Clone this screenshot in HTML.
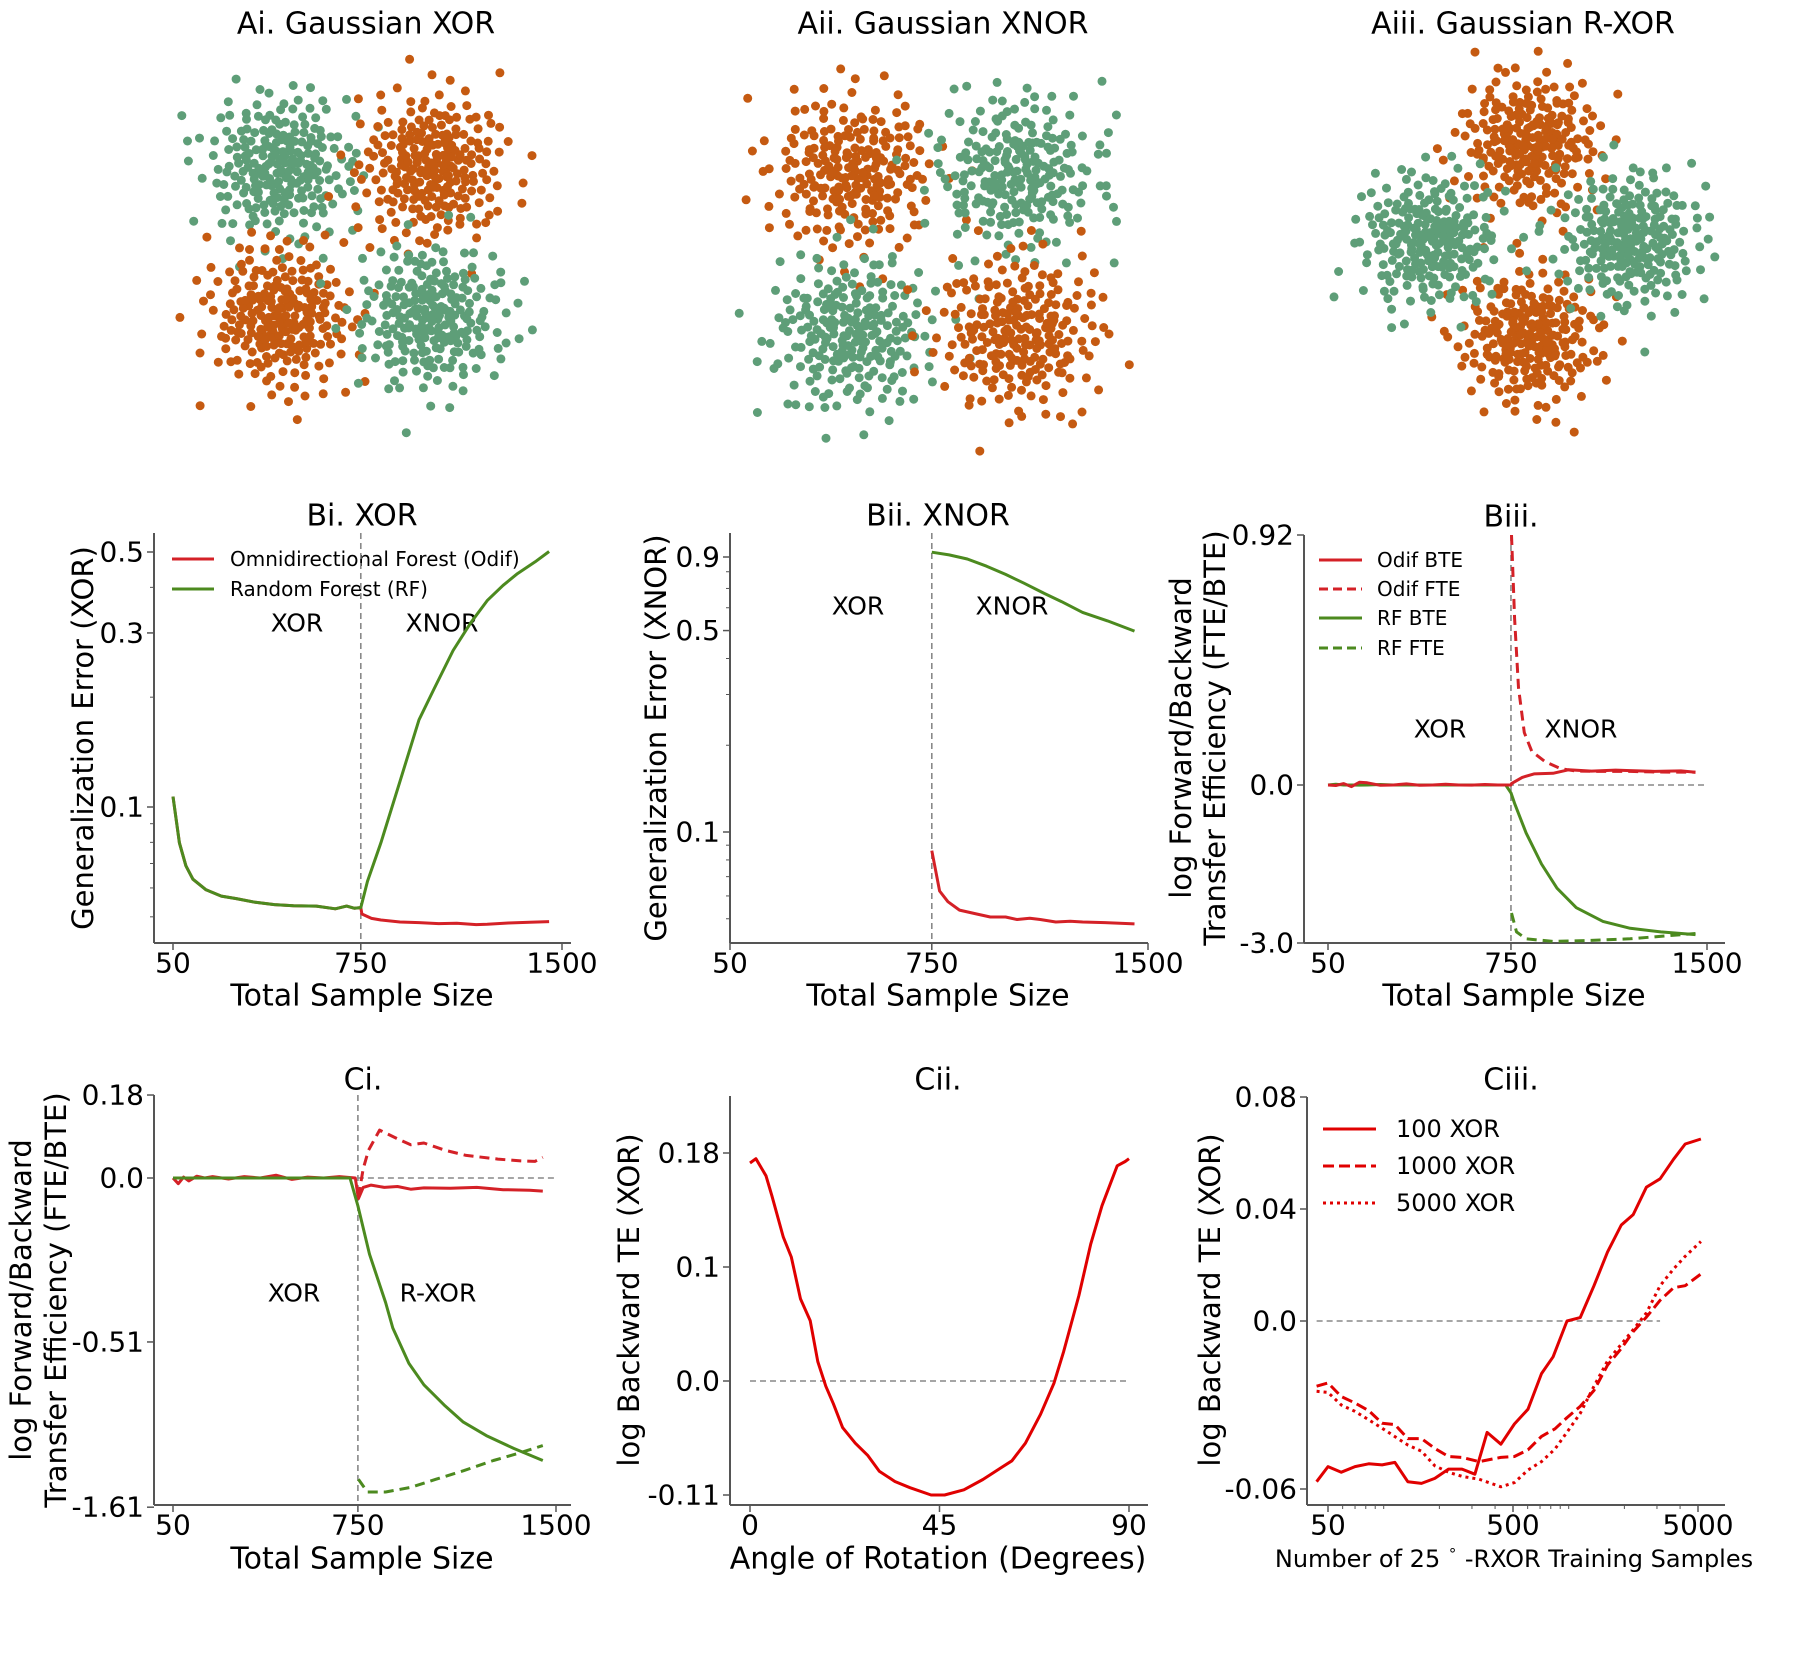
<!DOCTYPE html>
<html><head><meta charset="utf-8"><title>Gaussian XOR transfer figure</title>
<style>
html,body{margin:0;padding:0;background:#fff;}
svg{display:block;font-family:"DejaVu Sans","Liberation Sans",sans-serif;}
</style></head>
<body>
<svg id="fig" width="1800" height="1656" viewBox="0 0 1800 1656" xmlns="http://www.w3.org/2000/svg">
<rect x="0" y="0" width="1800" height="1656" fill="#fff"/>
<g font-size="30" text-anchor="middle" dominant-baseline="central" fill="#000">
<text x="366" y="24">Ai. Gaussian XOR</text>
<text x="943" y="24">Aii. Gaussian XNOR</text>
<text x="1523" y="24">Aiii. Gaussian R-XOR</text>
<text x="362" y="516">Bi. XOR</text>
<text x="938" y="516">Bii. XNOR</text>
<text x="1511" y="517">Biii.</text>
<text x="363" y="1080">Ci.</text>
<text x="938" y="1080">Cii.</text>
<text x="1511" y="1080">Ciii.</text>
<text x="362" y="996">Total Sample Size</text>
<text x="938" y="996">Total Sample Size</text>
<text x="1514" y="996">Total Sample Size</text>
<text x="362" y="1559">Total Sample Size</text>
<text x="938" y="1559">Angle of Rotation (Degrees)</text>
<text x="1514" y="1559" font-size="24">Number of 25 <tspan font-size="15" dy="-9">∘</tspan><tspan dy="9"> -RXOR Training Samples</tspan></text>
</g>
<g font-size="29" text-anchor="middle" dominant-baseline="central" fill="#000">
<text transform="translate(83,738) rotate(-90)">Generalization Error (XOR)</text>
<text transform="translate(656,738) rotate(-90)">Generalization Error (XNOR)</text>
<text transform="translate(1181,738) rotate(-90)">log Forward/Backward</text>
<text transform="translate(1215,738) rotate(-90)">Transfer Efficiency (FTE/BTE)</text>
<text transform="translate(21,1300) rotate(-90)">log Forward/Backward</text>
<text transform="translate(56,1300) rotate(-90)">Transfer Efficiency (FTE/BTE)</text>
<text transform="translate(629,1300) rotate(-90)">log Backward TE (XOR)</text>
<text transform="translate(1210,1300) rotate(-90)">log Backward TE (XOR)</text>
</g>
<g font-size="25" text-anchor="middle" dominant-baseline="central" fill="#000">
<text x="297" y="623">XOR</text>
<text x="442" y="623">XNOR</text>
<text x="858" y="606">XOR</text>
<text x="1012" y="606">XNOR</text>
<text x="1440" y="729">XOR</text>
<text x="1581" y="729">XNOR</text>
<text x="294" y="1293">XOR</text>
<text x="438" y="1293">R-XOR</text>
</g>
<g font-size="20" dominant-baseline="central" fill="#000">
<line x1="172" y1="559" x2="214" y2="559" stroke="#d42127" stroke-width="3"/>
<text x="230" y="559">Omnidirectional Forest (Odif)</text>
<line x1="172" y1="589" x2="214" y2="589" stroke="#4c8a1f" stroke-width="3"/>
<text x="230" y="589">Random Forest (RF)</text>
<line x1="1319" y1="560" x2="1362" y2="560" stroke="#d42127" stroke-width="3"/>
<text x="1377" y="560">Odif BTE</text>
<line x1="1319" y1="589" x2="1362" y2="589" stroke="#d42127" stroke-width="3" stroke-dasharray="9,5"/>
<text x="1377" y="589">Odif FTE</text>
<line x1="1319" y1="618" x2="1362" y2="618" stroke="#4c8a1f" stroke-width="3"/>
<text x="1377" y="618">RF BTE</text>
<line x1="1319" y1="648" x2="1362" y2="648" stroke="#4c8a1f" stroke-width="3" stroke-dasharray="9,5"/>
<text x="1377" y="648">RF FTE</text>
</g>
<g font-size="24" dominant-baseline="central" fill="#000">
<line x1="1323" y1="1129" x2="1376" y2="1129" stroke="#e00000" stroke-width="3"/>
<text x="1396" y="1129">100 XOR</text>
<line x1="1323" y1="1166" x2="1376" y2="1166" stroke="#e00000" stroke-width="3" stroke-dasharray="11,5"/>
<text x="1396" y="1166">1000 XOR</text>
<line x1="1323" y1="1203" x2="1376" y2="1203" stroke="#e00000" stroke-width="3" stroke-dasharray="3,4"/>
<text x="1396" y="1203">5000 XOR</text>
</g>
</svg>
<script>
// ---------- data ----------
// scatter clusters (data coords): [cx, cy, classIndex]
const aiClusters=[[-1,1,1],[1,1,0],[-1,-1,0],[1,-1,1]];
const aiiClusters=[[-1,1,0],[1,1,1],[-1,-1,1],[1,-1,0]];
const aiiiClusters=[[0,1.41,0],[0,-1.41,0],[-1.41,0,1],[1.41,0,1]];
const clusterSigma=0.5;
const pointsPerCluster=230;

// Bi
const biNPre=[50,74,98,124,173,230,286,357,428,499,584,655,697,725,750];
const biErrPre=[0.1068,0.0798,0.069,0.0634,0.0593,0.057,0.0561,0.0548,0.054,0.0536,0.0535,0.0526,0.0535,0.0528,0.053];
const biNOdifPost=[754,790,825,896,967,1040,1108,1180,1221,1300,1380,1452];
const biErrOdifPost=[0.0509,0.0495,0.049,0.0484,0.0482,0.0479,0.048,0.0476,0.0477,0.0481,0.0483,0.0485];
const biNRfPost=[775,825,896,967,1023,1094,1160,1221,1280,1334,1400,1452];
const biErrRfPost=[0.0626,0.0798,0.1176,0.1734,0.2106,0.2686,0.32,0.3679,0.405,0.4362,0.47,0.5017];
const biYTicks=[0.1,0.3,0.5];
const biYMinor=[0.05,0.06,0.07,0.08,0.09,0.2,0.4];
// Bii
const biiNRf=[750,810,873,940,1006,1070,1140,1200,1273,1360,1453];
const biiErrRf=[0.935,0.915,0.886,0.836,0.783,0.73,0.673,0.63,0.578,0.54,0.498];
const biiNOdif=[750,777,806,846,900,953,1006,1046,1090,1126,1180,1230,1273,1350,1453];
const biiErrOdif=[0.0862,0.0624,0.0573,0.0536,0.0521,0.0507,0.0507,0.0497,0.0502,0.0497,0.0487,0.049,0.0487,0.0485,0.048];
const biiYTicks=[0.1,0.5,0.9];
const biiYMinor=[0.05,0.06,0.07,0.08,0.09,0.2,0.3,0.4,0.6,0.7,0.8];
// Biii
const biiiNPre=[50,80,110,140,170,200,250,300,350,400,450,500,550,600,650,700,730];
const biiiOdifPre=[0,-0.01,0.005,-0.03,0.01,0.008,-0.005,0,0.004,-0.003,0,0.003,0,-0.002,0.002,0,0];
const biiiRfPre=[0,0.003,0,0,-0.002,0,0.002,0,0,0,0,0,0,0,0,0,0];
const biiiNOdifBte=[750,752,793,838,911,970,1058,1150,1206,1300,1400,1456];
const biiiOdifBte=[0,0.005,0.028,0.041,0.043,0.056,0.051,0.055,0.053,0.05,0.052,0.047];
const biiiNOdifFte=[752,764,779,801,830,882,941,1000,1100,1206,1300,1456];
const biiiOdifFte=[0.92,0.612,0.358,0.193,0.123,0.085,0.06,0.051,0.05,0.05,0.048,0.047];
const biiiNRfBte=[750,764,808,867,926,1000,1102,1206,1323,1456];
const biiiRfBte=[-0.15,-0.35,-0.91,-1.5,-1.96,-2.33,-2.59,-2.72,-2.79,-2.84];
const biiiNRfFte=[752,771,808,911,1058,1206,1456];
const biiiRfFte=[-2.43,-2.79,-2.92,-2.97,-2.95,-2.92,-2.82];
const biiiYTicks=[-3.0,0.0,0.92];
const biiiYLabels=["-3.0","0.0","0.92"];
// Ci
const ciNOdifBte=[50,70,90,110,140,170,200,260,320,380,440,500,560,620,680,740,752,770,800,850,900,950,1000,1100,1200,1300,1400,1450];
const ciOdifBte=[0,-0.012,0.002,-0.006,0.004,0,0.003,-0.002,0.003,0,0.006,-0.003,0.002,0,0.003,0,-0.045,-0.02,-0.015,-0.02,-0.018,-0.024,-0.021,-0.022,-0.02,-0.025,-0.026,-0.028];
const ciNRfBte=[50,200,400,600,720,750,794,855,882,943,1000,1080,1149,1236,1340,1450];
const ciRfBte=[0,0,0,0,0,-0.062,-0.19,-0.35,-0.45,-0.61,-0.72,-0.84,-0.94,-1.03,-1.12,-1.21];
const ciNOdifFte=[752,770,790,832,900,950,1000,1080,1160,1280,1366,1420,1450];
const ciOdifFte=[-0.041,0.02,0.06,0.104,0.085,0.072,0.076,0.06,0.049,0.041,0.037,0.036,0.045];
const ciNRfFte=[752,786,855,950,1046,1150,1263,1350,1450];
const ciRfFte=[-1.36,-1.47,-1.47,-1.43,-1.36,-1.29,-1.21,-1.16,-1.1];
const ciYTicks=[-1.61,-0.51,0.0,0.18];
const ciYLabels=["-1.61","-0.51","0.0","0.18"];
// Cii
const ciiAngles=[0,1.4,3.8,5.2,7.9,9.8,12,14.3,16.1,18,19.8,22,25,28,30.7,34.4,38,43,46.2,50.8,55.3,59.9,62.2,65.4,69,72.2,74.5,78.1,80.9,83.6,87.2,89.1,90];
const ciiTE=[0.173,0.176,0.164,0.150,0.121,0.107,0.072,0.053,0.017,-0.005,-0.022,-0.045,-0.060,-0.072,-0.087,-0.097,-0.103,-0.110,-0.110,-0.105,-0.095,-0.083,-0.077,-0.06,-0.032,-0.002,0.026,0.075,0.116,0.143,0.171,0.174,0.176];
const ciiYTicks=[-0.11,0.0,0.1,0.18];
const ciiYLabels=["-0.11","0.0","0.1","0.18"];
const ciiXTicks=[0,45,90];
// Ciii
const ciiiN100=[43.4,50,59,70,83,98,115,135,160,189,224,265,311,362,430,509,603,713,824,979,1154,1370,1622,1925,2233,2632,3118,3690,4262,5184];
const ciii100=[-0.0574,-0.052,-0.054,-0.052,-0.051,-0.0514,-0.0505,-0.0574,-0.058,-0.0562,-0.0529,-0.0529,-0.0547,-0.0398,-0.044,-0.0368,-0.0315,-0.0188,-0.0128,0,0.0012,0.0126,0.0246,0.0343,0.038,0.0478,0.0508,0.0578,0.0632,0.065];
const ciiiN1000=[43.4,50,59,70,83,98,115,135,160,189,224,265,328,430,509,603,713,843,979,1154,1370,1622,1925,2233,2632,3118,3690,4262,5184];
const ciii1000=[-0.0233,-0.0221,-0.027,-0.0293,-0.032,-0.0365,-0.037,-0.042,-0.042,-0.0455,-0.0484,-0.0487,-0.0502,-0.0487,-0.0484,-0.046,-0.0412,-0.0385,-0.0345,-0.0305,-0.0248,-0.0158,-0.0098,-0.0038,0.0014,0.0074,0.0119,0.0126,0.0168];
const ciiiN5000=[43.4,50,59,70,83,98,115,135,160,189,224,265,328,430,509,603,713,843,979,1154,1370,1622,1925,2233,2632,3118,3690,4262,5184];
const ciii5000=[-0.0251,-0.0255,-0.03,-0.0323,-0.0353,-0.0383,-0.0413,-0.0443,-0.0465,-0.0517,-0.054,-0.0555,-0.0565,-0.0592,-0.0577,-0.0532,-0.0502,-0.0457,-0.0397,-0.033,-0.0233,-0.0143,-0.0083,-0.0031,0.0029,0.0126,0.0186,0.0231,0.0284];
const ciiiYTicks=[-0.06,0.0,0.04,0.08];
const ciiiYLabels=["-0.06","0.0","0.04","0.08"];
const ciiiXTicks=[50,500,5000];
const ciiiXMinor=[60,70,80,90,100,200,300,400,600,700,800,900,1000,2000,3000,4000];
const ciiiZeroSpan=[43.4,3118];
const sampleTicks=[50,750,1500];

// ---------- helpers ----------
const NS="http://www.w3.org/2000/svg";
const svg=document.getElementById('fig');
function mk(tag,attrs,parent){const e=document.createElementNS(NS,tag);for(const k in attrs)e.setAttribute(k,attrs[k]);(parent||svg).appendChild(e);return e;}
function lin(d0,d1,p0,p1){return v=>p0+(v-d0)*(p1-p0)/(d1-d0);}
function logS(d0,d1,p0,p1){const a=Math.log10(d0),b=Math.log10(d1);return v=>p0+(Math.log10(v)-a)*(p1-p0)/(b-a);}
function pw(ds,ps){return v=>{let i=0;while(i<ds.length-2&&v>ds[i+1])i++;return ps[i]+(v-ds[i])*(ps[i+1]-ps[i])/(ds[i+1]-ds[i]);};}
function halton(i,b){let f=1,r=0;while(i>0){f/=b;r+=f*(i%b);i=Math.floor(i/b);}return r;}
const RED='#d42127',GREEN='#4c8a1f',BRIGHT='#e00000',SPINE='#555';

function axes(name,L,R,T,B){
  const g=mk('g',{});
  
  
  const l=mk('line',{x1:L,y1:T,x2:L,y2:B,stroke:SPINE,'stroke-width':2},g);
  
  
  const b=mk('line',{x1:L,y1:B,x2:R,y2:B,stroke:SPINE,'stroke-width':2},g);
  
  
  return g;
}
function ytick(g,L,py,label,minor){
  const t=mk('line',{x1:L-(minor?4:7),y1:py,x2:L,y2:py,stroke:SPINE,'stroke-width':minor?1:1.5},g);
  
  
  if(label!==null&&label!==undefined){
    const tx=mk('text',{x:L-10,y:py,'text-anchor':'end','dominant-baseline':'central','font-size':28},g);
    tx.textContent=label;
    
    
  }
}
function xtick(g,B,px,label,ly,minor){
  const t=mk('line',{x1:px,y1:B,x2:px,y2:B+(minor?4:7),stroke:SPINE,'stroke-width':minor?1:1.5},g);
  
  
  if(label!==null&&label!==undefined){
    const tx=mk('text',{x:px,y:ly,'text-anchor':'middle','dominant-baseline':'central','font-size':28},g);
    tx.textContent=label;
    
    
  }
}
function series(g,xs,ys,sx,sy,color,dash,name){
  let d='';
  for(let i=0;i<xs.length;i++){d+=(i?'L':'M')+sx(xs[i]).toFixed(1)+','+sy(ys[i]).toFixed(1);}
  const p=mk('path',{d:d,fill:'none',stroke:color,'stroke-width':3,'stroke-linejoin':'round'},g);
  if(dash)p.setAttribute('stroke-dasharray',dash);
  
  
}
function refLine(g,x1,y1,x2,y2,name){
  const l=mk('line',{x1:x1,y1:y1,x2:x2,y2:y2,stroke:'#888','stroke-width':1.6,'stroke-dasharray':'6,4'},g);
  
  
}

// ---------- scatter ----------
function scatter(name,clusters,cx,cy,unitX,unitY,offset){
  const g=mk('g',{});
  
  
  const cols=['#c55a11','#5e9e78'];
  clusters.forEach((c,k)=>{
    const base=offset+k*pointsPerCluster+1;
    for(let i=0;i<pointsPerCluster;i++){
      const u=halton(base+i,2), v=halton(base+i,3);
      const r=clusterSigma*Math.sqrt(-2*Math.log(1-u*0.996));
      const a=2*Math.PI*v;
      const px=cx+(c[0]+r*Math.cos(a))*unitX, py=cy-(c[1]+r*Math.sin(a))*unitY;
      const dot=mk('circle',{cx:px.toFixed(1),cy:py.toFixed(1),r:4.5,fill:cols[c[2]]},g);
      
      
    }
  });
}
scatter('scatter-ai',aiClusters,356,242,75,75,17);
scatter('scatter-aii',aiiClusters,935,253,83,80,1123);
scatter('scatter-aiii',aiiiClusters,1530,240,71,69,2311);

// ---------- Bi ----------
(function(){
  const g=axes('chart-bi',154,571,533,943);
  const sx=lin(50,1500,173,562), sy=logS(0.1,0.5,807,552);
  sampleTicks.forEach(v=>xtick(g,943,sx(v),String(v),963,false));
  biYMinor.forEach(v=>ytick(g,154,sy(v),null,true));
  biYTicks.forEach(v=>ytick(g,154,sy(v),String(v),false));
  refLine(g,sx(750),533,sx(750),943,'task-switch-line');
  series(g,biNPre.concat(biNOdifPost),biErrPre.concat(biErrOdifPost),sx,sy,RED,null,'odif-line');
  series(g,biNPre.concat(biNRfPost),biErrPre.concat(biErrRfPost),sx,sy,GREEN,null,'rf-line');
})();
// ---------- Bii ----------
(function(){
  const g=axes('chart-bii',730,1148,533,943);
  const sx=lin(50,1500,730,1148), sy=logS(0.1,0.9,832,557);
  sampleTicks.forEach(v=>xtick(g,943,sx(v),String(v),963,false));
  biiYMinor.forEach(v=>ytick(g,730,sy(v),null,true));
  biiYTicks.forEach(v=>ytick(g,730,sy(v),String(v),false));
  refLine(g,sx(750),533,sx(750),943,'task-switch-line');
  series(g,biiNRf,biiErrRf,sx,sy,GREEN,null,'rf-line');
  series(g,biiNOdif,biiErrOdif,sx,sy,RED,null,'odif-line');
})();
// ---------- Biii ----------
(function(){
  const g=axes('chart-biii',1304,1725,535,943);
  const sx=lin(50,1500,1328,1707), sy=pw([-3,0,0.92],[943,785,535]);
  sampleTicks.forEach(v=>xtick(g,943,sx(v),String(v),963,false));
  biiiYTicks.forEach((v,i)=>ytick(g,1304,sy(v),biiiYLabels[i],false));
  refLine(g,sx(750),535,sx(750),943,'task-switch-line');
  refLine(g,sx(50),sy(0),sx(1500),sy(0),'zero-line');
  series(g,biiiNPre.concat(biiiNRfBte),biiiRfPre.concat(biiiRfBte),sx,sy,GREEN,null,'rf-bte-line');
  series(g,biiiNRfFte,biiiRfFte,sx,sy,GREEN,'10,6','rf-fte-line');
  series(g,biiiNPre.concat(biiiNOdifBte),biiiOdifPre.concat(biiiOdifBte),sx,sy,RED,null,'odif-bte-line');
  series(g,biiiNOdifFte,biiiOdifFte,sx,sy,RED,'10,6','odif-fte-line');
})();
// ---------- Ci ----------
(function(){
  const g=axes('chart-ci',154,571,1095,1505);
  const sx=lin(50,1500,173,556);
  const sy=v=>v>=0?1178-v*461:1178+216.4*Math.log(1-v/0.45);
  sampleTicks.forEach(v=>xtick(g,1505,sx(v),String(v),1525,false));
  ciYTicks.forEach((v,i)=>ytick(g,154,sy(v),ciYLabels[i],false));
  refLine(g,sx(750),1095,sx(750),1505,'task-switch-line');
  refLine(g,sx(750),sy(0),sx(1500),sy(0),'zero-line');
  series(g,ciNOdifBte,ciOdifBte,sx,sy,RED,null,'odif-bte-line');
  series(g,ciNOdifFte,ciOdifFte,sx,sy,RED,'10,6','odif-fte-line');
  series(g,ciNRfBte,ciRfBte,sx,sy,GREEN,null,'rf-bte-line');
  series(g,ciNRfFte,ciRfFte,sx,sy,GREEN,'10,6','rf-fte-line');
})();
// ---------- Cii ----------
(function(){
  const g=axes('chart-cii',730,1148,1096,1505);
  const sx=lin(0,90,750,1129), sy=pw(ciiYTicks,[1495,1381,1267,1153]);
  ciiXTicks.forEach(v=>xtick(g,1505,sx(v),String(v),1525,false));
  ciiYTicks.forEach((v,i)=>ytick(g,730,sy(v),ciiYLabels[i],false));
  refLine(g,sx(0),sy(0),sx(90),sy(0),'zero-line');
  series(g,ciiAngles,ciiTE,sx,sy,BRIGHT,null,'backward-te-line');
})();
// ---------- Ciii ----------
(function(){
  const g=axes('chart-ciii',1307,1725,1097,1505);
  const sx=logS(50,5000,1328,1698), sy=lin(-0.06,0.08,1489,1097);
  ciiiXMinor.forEach(v=>xtick(g,1505,sx(v),null,0,true));
  ciiiXTicks.forEach(v=>xtick(g,1505,sx(v),String(v),1525,false));
  ciiiYTicks.forEach((v,i)=>ytick(g,1307,sy(v),ciiiYLabels[i],false));
  refLine(g,sx(ciiiZeroSpan[0]),sy(0),sx(ciiiZeroSpan[1]),sy(0),'zero-line');
  series(g,ciiiN100,ciii100,sx,sy,BRIGHT,null,'line-100-xor');
  series(g,ciiiN1000,ciii1000,sx,sy,BRIGHT,'11,5','line-1000-xor');
  series(g,ciiiN5000,ciii5000,sx,sy,BRIGHT,'3,4','line-5000-xor');
})();
</script>
</body></html>
